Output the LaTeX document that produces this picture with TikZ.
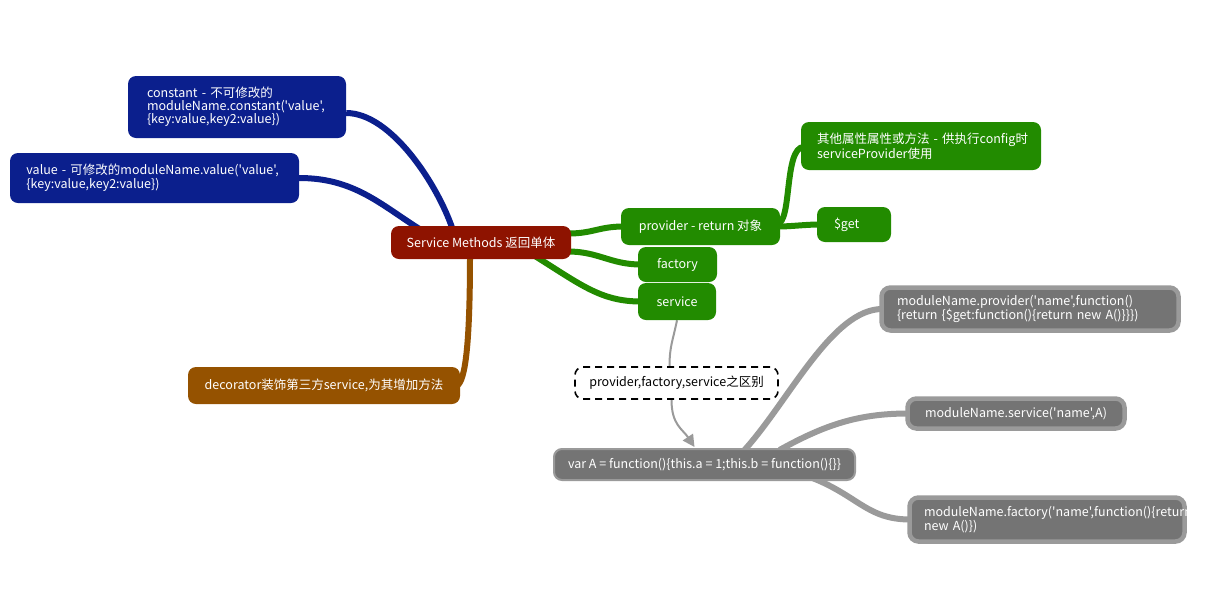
\documentclass[tikz,border=0pt]{standalone}
\usepackage{fontspec}
\newfontfamily\nf{Noto Sans CJK SC}
\usetikzlibrary{arrows.meta,backgrounds,calc}
\definecolor{cblue}{HTML}{0B1F8D}
\definecolor{cred}{HTML}{8E1300}
\definecolor{cgreen}{HTML}{228B00}
\definecolor{cbrown}{HTML}{955200}
\definecolor{cgray}{HTML}{747474}
\definecolor{cgrayb}{HTML}{9A9A9A}
\hyphenpenalty=10000
\exhyphenpenalty=10000
\begin{document}
\begin{tikzpicture}[x=1pt,y=-1pt,
  topic/.style={rounded corners=8pt, text=white, inner sep=0pt, align=center,
    font=\nf\fontsize{12.5}{12.2}\selectfont},
  codebox/.style={topic, fill=cgray, draw=cgrayb, line width=4.5pt, rounded corners=9pt},
  blueline/.style={draw=cblue, line width=6pt},
  greenline/.style={draw=cgreen, line width=6pt},
  brownline/.style={draw=cbrown, line width=6pt},
  grayline/.style={draw=cgrayb, line width=6pt},
  thinline/.style={draw=cgrayb, line width=2pt}
]
\useasboundingbox (0,0) rectangle (1226,603);

\node[topic, fill=cblue, minimum width=218, minimum height=62, text width=180, align=left]
  (constant) at (237,107) {constant - 不可修改的\\moduleName.constant('value',\\\{key:value,key2:value\})};
\node[topic, fill=cblue, minimum width=289, minimum height=50, text width=256, align=left]
  (value) at (154.5,178) {\mbox{value - 可修改的moduleName.value('value',}\\\{key:value,key2:value\})};
\node[topic, fill=cred, minimum width=180, minimum height=33] (sm) at (481,242.5) {Service Methods 返回单体};
\node[topic, fill=cgreen, minimum width=159, minimum height=37] (provider) at (700.5,226.5) {provider - return 对象};
\node[topic, fill=cgreen, minimum width=79, minimum height=35] (factory) at (677.5,264.5) {factory};
\node[topic, fill=cgreen, minimum width=78, minimum height=37] (service) at (677,301.5) {service};
\node[topic, fill=cgreen, minimum width=240, minimum height=48, text width=208, align=left]
  (other) at (921,146) {\mbox{其他属性属性或方法 - 供执行config时}\\serviceProvider使用};
\node[topic, fill=cgreen, minimum width=74, minimum height=35, text width=40, align=left] (get) at (854,224.5) {\$get};
\node[topic, fill=cbrown, minimum width=272, minimum height=37] (decorator) at (324,385.5) {decorator装饰第三方service,为其增加方法};
\node[topic, fill=white, draw=black, line width=1.6pt, dash pattern=on 7pt off 5pt, text=black,
  minimum width=203, minimum height=32] (dashed) at (676.5,383) {provider,factory,service之区别};
\node[topic, fill=cgray, draw=cgrayb, line width=2pt, minimum width=301, minimum height=31] (varA) at (704.5,464.5)
  {var A = function()\{this.a = 1;this.b = function()\{\}\}};
\node[codebox, minimum width=297, minimum height=43, text width=266, align=left] (pcode) at (1030,309)
  {moduleName.provider('name',function()\\\{return \{\$get:function()\{return new A()\}\}\})};
\node[codebox, minimum width=217, minimum height=30] (scode) at (1016,413.5) {moduleName.service('name',A)};
\node[codebox, minimum width=275, minimum height=44, text width=246, align=left] (fcode) at (1047,519.5)
  {moduleName.factory('name',function()\{return\\new A()\})};

\begin{scope}[on background layer]
\draw[blueline] ($(constant.east)+(0,6)$) .. controls +(45,0) and +(-15,-45) .. ($(sm.north west)+(62,4)$);
\draw[blueline] (value.east) .. controls +(55,0) and +(-40,-25) .. ($(sm.north west)+(30,4)$);
\draw[brownline] ($(sm.south)+(-11,-4)$) .. controls +(0,90) and +(8,-5) .. ($(decorator.east)+(-3,0)$);
\draw[greenline] ($(sm.east)+(-3,-9)$) .. controls +(25,0) and +(-25,0) .. ($(provider.west)+(3,0)$);
\draw[greenline] ($(sm.east)+(-3,9)$) .. controls +(30,0) and +(-30,0) .. ($(factory.west)+(3,0)$);
\draw[greenline] ($(sm.south east)+(-36,-3)$) .. controls +(45,28) and +(-40,0) .. ($(service.west)+(3,0)$);
\draw[greenline] ($(provider.east)+(-3,0)$) .. controls +(15,0) and +(-15,0) .. ($(get.west)+(3,0)$);
\draw[greenline] ($(provider.east)+(-3,-3)$) .. controls +(15,0) and +(-20,0) .. ($(other.west)+(3,1)$);
\draw[thinline] (service.south) .. controls +(-4,20) and +(0,-20) .. ($(dashed.north)+(-7,0)$);
\draw[thinline, -{Triangle[length=12pt,width=12pt]}] ($(dashed.south)+(-5,0)$) .. controls +(0,25) and +(-12,-18) .. ($(varA.north)+(-10,-1)$);
\draw[grayline] ($(varA.north)+(40,2)$) .. controls +(45,-50) and +(-50,0) .. ($(pcode.west)+(3,0)$);
\draw[grayline] ($(varA.north)+(75,2)$) .. controls +(45,-25) and +(-50,0) .. ($(scode.west)+(3,0)$);
\draw[grayline] ($(varA.east)+(-70,5)$) .. controls +(70,18) and +(-50,0) .. ($(fcode.west)+(3,0)$);
\end{scope}
\end{tikzpicture}
\end{document}
